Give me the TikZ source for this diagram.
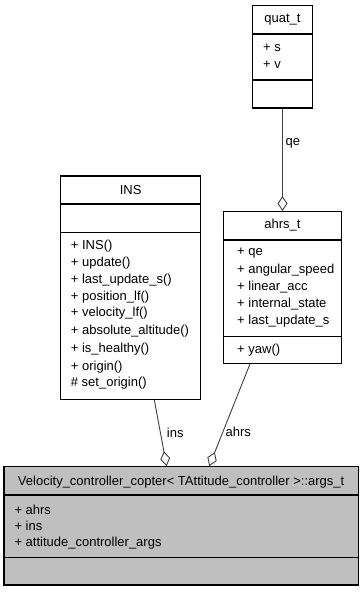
\documentclass[tikz,border=0pt]{standalone}
\usepackage{fontspec}
\setmainfont{Liberation Sans}
\usetikzlibrary{arrows.meta}
\definecolor{edgegray}{HTML}{404040}
\definecolor{boxgray}{HTML}{BFBFBF}
\tikzset{
  classbox/.style={draw=black, line width=1.2pt, fill=white, inner sep=0pt, rectangle},
  sepline/.style={draw=black, line width=1.2pt},
  member/.style={inner sep=0pt, anchor=west, font=\fontsize{13}{15}\selectfont},
  title/.style={inner sep=0pt, anchor=center, font=\fontsize{13}{15}\selectfont},
  elabel/.style={inner sep=0pt, anchor=west, font=\fontsize{13}{15}\selectfont},
  edge/.style={draw=edgegray, line width=0.9pt, -{Diamond[open, length=15pt, width=10pt, line width=0.9pt]}}
}
\begin{document}
\begin{tikzpicture}[x=1pt, y=-1pt]
\useasboundingbox (0,0) rectangle (363,592);

% quat_t
\node[classbox, minimum width=59.6pt, minimum height=102.3pt] (quat) at (282.5,56.85) {};
\draw[sepline] (quat.west |- 0,34) -- (quat.east |- 0,34);
\draw[sepline] (quat.west |- 0,80) -- (quat.east |- 0,80);
\node[title] (quatT) at (282.5,20) {quat\_t};
\node[member] (quatS) at (263,48.3) {+ s};
\node[member] (quatV) at (263,65) {+ v};

% ahrs_t
\node[classbox, minimum width=118.4pt, minimum height=151.6pt] (ahrst) at (282.5,287.5) {};
\draw[sepline] (ahrst.west |- 0,240) -- (ahrst.east |- 0,240);
\draw[sepline] (ahrst.west |- 0,336.7) -- (ahrst.east |- 0,336.7);
\node[title] (ahrsT) at (282.5,225) {ahrs\_t};
\node[member] (ahrsA) at (237,253.3) {+ qe};
\node[member] (ahrsB) at (237,270) {+ angular\_speed};
\node[member] (ahrsC) at (237,287) {+ linear\_acc};
\node[member] (ahrsD) at (237,304) {+ internal\_state};
\node[member] (ahrsE) at (237,320.7) {+ last\_update\_s};
\node[member] (ahrsF) at (237,350) {+ yaw()};

% INS
\node[classbox, minimum width=140pt, minimum height=223.3pt] (ins) at (130.7,287.65) {};
\draw[sepline] (ins.west |- 0,204) -- (ins.east |- 0,204);
\draw[sepline] (ins.west |- 0,232.3) -- (ins.east |- 0,232.3);
\node[title] (insT) at (130.7,190) {INS};
\node[member] (insA) at (70.7,246) {+ INS()};
\node[member] (insB) at (70.7,262.7) {+ update()};
\node[member] (insC) at (70.7,280) {+ last\_update\_s()};
\node[member] (insD) at (70.7,296.7) {+ position\_lf()};
\node[member] (insE) at (70.7,313.3) {+ velocity\_lf()};
\node[member] (insF) at (70.7,331.3) {+ absolute\_altitude()};
\node[member] (insG) at (70.7,349.3) {+ is\_healthy()};
\node[member] (insH) at (70.7,366.7) {+ origin()};
\node[member] (insI) at (70.7,383.3) {\# set\_origin()};

% Velocity_controller_copter args
\node[classbox, fill=boxgray, minimum width=354.3pt, minimum height=118.3pt] (args) at (181.15,525.85) {};
\draw[sepline] (args.west |- 0,495) -- (args.east |- 0,495);
\draw[sepline] (args.west |- 0,557.3) -- (args.east |- 0,557.3);
\node[title] (argsT) at (181.15,481.7) {Velocity\_controller\_copter< TAttitude\_controller >::args\_t};
\node[member] (argsA) at (14.3,510) {+ ahrs};
\node[member] (argsB) at (14.3,526.3) {+ ins};
\node[member] (argsC) at (14.3,542.7) {+ attitude\_controller\_args};

% aggregation connectors
\draw[edge] (quat.south) -- (ahrst.north);
\draw[edge] ([xshift=23.6pt]ins.south) -- ([xshift=-14.5pt]args.north);
\draw[edge] ([xshift=-32.5pt]ahrst.south) -- ([xshift=28.1pt]args.north);

\node[elabel] (lqe) at (285.5,143) {qe};
\node[elabel] (lins) at (166.7,432.7) {ins};
\node[elabel] (lahrs) at (225.5,431.7) {ahrs};
\end{tikzpicture}
\end{document}
